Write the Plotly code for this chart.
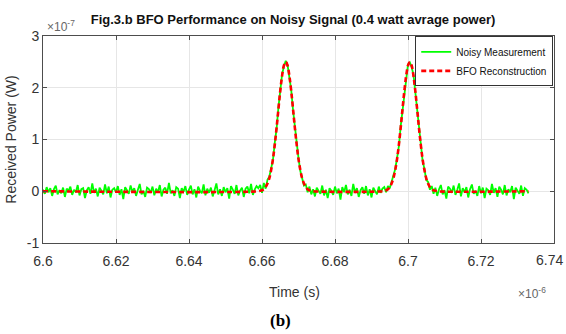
import plotly.graph_objects as go

# time grid in microseconds (axis shows x 1e-6 s)
t_start = 6.600
t_step = 0.0005

# Noisy measurement (units of 1e-7 W)
noisy = [
    0.03, -0.05, 0.08, -0.02, 0.06, -0.09, 0.04, 0.11, -0.06, 0.02,
    -0.04, 0.07, -0.11, 0.05, 0.01, 0.09, -0.07, 0.03, -0.02, 0.12,
    -0.08, 0.04, 0.06, -0.13, 0.02, 0.08, -0.05, 0.15, -0.03, 0.05,
    -0.10, 0.07, 0.01, -0.06, 0.13, -0.04, 0.09, -0.12, 0.03, 0.06,
    -0.02, 0.10, -0.07, 0.04, -0.15, 0.08, 0.02, -0.05, 0.11, -0.01,
    0.06, -0.09, 0.03, 0.14, -0.06, 0.01, -0.11, 0.07, 0.04, -0.03,
    0.09, -0.08, 0.05, -0.02, 0.12, -0.10, 0.03, 0.07, -0.05, 0.16,
    -0.04, 0.02, -0.09, 0.08, 0.05, -0.13, 0.06, -0.01, 0.10, -0.07,
    0.03, 0.11, -0.06, 0.04, -0.12, 0.09, 0.01, -0.04, 0.13, -0.08,
    0.05, -0.03, 0.07, -0.10, 0.02, 0.15, -0.06, 0.04, -0.09, 0.08,
    -0.02, 0.06, -0.14, 0.10, 0.03, -0.05, 0.12, -0.08, 0.01, 0.07,
    -0.11, 0.05, 0.09, -0.04, 0.14, -0.07, 0.03, 0.10, 0.06,
    0.12, -0.03, 0.16, 0.05, 0.22, 0.28, 0.45, 0.60, 0.94, 1.21,
    1.62, 1.92, 2.26, 2.41, 2.52, 2.44, 2.21, 1.96, 1.57, 1.25,
    0.88, 0.64, 0.39, 0.27, 0.11, 0.13, -0.02, 0.09, -0.06,
    0.04, -0.10, 0.07, 0.02, -0.05, 0.11, -0.08, 0.03, -0.13, 0.06,
    0.01, -0.07, 0.09, -0.04, 0.05, -0.16, 0.08, -0.02, 0.12, -0.06,
    0.03, -0.09, 0.14, -0.03, 0.06, -0.11, 0.02, 0.08, -0.05, 0.10,
    -0.08, 0.04, -0.12, 0.07, 0.01, -0.06, 0.09, -0.03, 0.05,
    0.08, -0.02, 0.10, 0.06, 0.19, 0.29, 0.43, 0.64, 0.87, 1.26,
    1.56, 1.97, 2.21, 2.45, 2.49, 2.40, 2.25, 1.91, 1.61, 1.20,
    0.92, 0.59, 0.43, 0.22, 0.18, 0.03, 0.10, -0.05, 0.07,
    -0.09, 0.04, 0.12, -0.06, 0.02, -0.14, 0.09, 0.05, -0.03, 0.11,
    -0.07, 0.03, 0.15, -0.10, 0.06, -0.02, 0.08, -0.12, 0.04, 0.13,
    -0.05, 0.01, -0.09, 0.10, -0.04, 0.07, -0.13, 0.05, 0.02, -0.07,
    0.14, -0.03, 0.06, -0.11, 0.09, 0.03, -0.06, 0.12, -0.08, 0.04,
    -0.02, 0.10, -0.15, 0.07, 0.01, -0.05, 0.11, -0.09, 0.06, 0.03, -0.04,
]
noisy_t = [round(t_start + t_step * i, 4) for i in range(len(noisy))]

# BFO reconstruction (units of 1e-7 W)
rec_t = [
    6.6000, 6.6590,
    6.6595, 6.6600, 6.6605, 6.6610, 6.6615, 6.6620, 6.6625, 6.6630, 6.6635, 6.6640,
    6.6645, 6.6650, 6.6655, 6.6660, 6.6665, 6.6670, 6.6675, 6.6680, 6.6685, 6.6690,
    6.6695, 6.6700, 6.6705, 6.6710, 6.6715, 6.6720, 6.6725, 6.6730, 6.6735,
    6.6740, 6.6930,
    6.6935, 6.6940, 6.6945, 6.6950, 6.6955, 6.6960, 6.6965, 6.6970, 6.6975, 6.6980,
    6.6985, 6.6990, 6.6995, 6.7000, 6.7005, 6.7010, 6.7015, 6.7020, 6.7025, 6.7030,
    6.7035, 6.7040, 6.7045, 6.7050, 6.7055, 6.7060, 6.7065, 6.7070, 6.7075,
    6.7080, 6.7330,
]
rec_v = [
    0.0, 0.0,
    0.01, 0.02, 0.04, 0.08, 0.15, 0.25, 0.41, 0.62, 0.90, 1.23,
    1.59, 1.94, 2.23, 2.43, 2.50, 2.43, 2.23, 1.94, 1.59, 1.23,
    0.90, 0.62, 0.41, 0.25, 0.15, 0.08, 0.04, 0.02, 0.01,
    0.0, 0.0,
    0.01, 0.02, 0.04, 0.08, 0.15, 0.25, 0.41, 0.62, 0.90, 1.23,
    1.59, 1.94, 2.23, 2.43, 2.50, 2.43, 2.23, 1.94, 1.59, 1.23,
    0.90, 0.62, 0.41, 0.25, 0.15, 0.08, 0.04, 0.02, 0.01,
    0.0, 0.0,
]

x_ticks = [6.6, 6.62, 6.64, 6.66, 6.68, 6.7, 6.72, 6.74]
x_ticktext = ["6.6", "6.62", "6.64", "6.66", "6.68", "6.7", "6.72", ""]
x_last_label = "6.74"
y_ticks = [-1, 0, 1, 2, 3]
y_ticktext = ["-1", "0", "1", "2", "3"]

FONT = "Liberation Sans, Arial, sans-serif"
AXC = "#4d4d4d"

fig = go.Figure()
fig.add_trace(go.Scatter(x=noisy_t, y=noisy, mode="lines", name="Noisy Measurement",
                         line=dict(color="#00ff00", width=1.8)))
fig.add_trace(go.Scatter(x=rec_t, y=rec_v, mode="lines", name="BFO Reconstruction",
                         line=dict(color="#ff0000", width=2.6, dash="5px,3px", shape="spline")))

fig.update_layout(
    width=566, height=334,
    margin=dict(l=40, r=11, t=36, b=91),
    paper_bgcolor="white", plot_bgcolor="white",
    showlegend=True,
    legend=dict(x=0.9985, y=0.998, xanchor="right", yanchor="top",
                bgcolor="white", bordercolor="#333333", borderwidth=1,
                font=dict(family=FONT, size=10, color="#111111"),
                tracegroupgap=2, itemwidth=30),
    title=dict(text="<b>Fig.3.b BFO Performance on Noisy Signal (0.4 watt avrage power)</b>",
               x=(292 - 40) / 515, xref="paper", xanchor="center", y=1 - 19 / 334, yanchor="middle",
               font=dict(family=FONT, size=13, color="#111111")),
    xaxis=dict(range=[6.6, 6.74], tickvals=x_ticks, ticktext=x_ticktext,
               showgrid=True, gridcolor="#e6e6e6", gridwidth=1,
               showline=True, linecolor=AXC, linewidth=1, mirror="ticks",
               ticks="inside", ticklen=4, tickcolor=AXC, zeroline=False,
               ticklabelstandoff=5,
               tickfont=dict(family=FONT, size=14, color="#333333")),
    yaxis=dict(range=[-1, 3], tickvals=y_ticks, ticktext=y_ticktext,
               showgrid=True, gridcolor="#e6e6e6", gridwidth=1,
               showline=True, linecolor=AXC, linewidth=1, mirror="ticks",
               ticks="inside", ticklen=4, tickcolor=AXC, zeroline=False,
               tickfont=dict(family=FONT, size=14, color="#333333"),
               title=dict(text="Received Power (W)", standoff=6,
                          font=dict(family=FONT, size=14, color="#333333"))),
    annotations=[
        dict(text="×10<sup>-7</sup>", xref="paper", yref="paper", x=0.0, y=1.0,
             xanchor="left", yanchor="bottom", showarrow=False, xshift=2,
             font=dict(family=FONT, size=12, color="#666666")),
        dict(text=x_last_label, xref="paper", yref="paper", x=1.0, y=0.0,
             xanchor="right", yanchor="top", showarrow=False, xshift=11, yshift=-7,
             font=dict(family=FONT, size=14, color="#333333")),
        dict(text="×10<sup>-6</sup>", xref="paper", yref="paper", x=1.0, y=0.0,
             xanchor="right", yanchor="top", showarrow=False, yshift=-40, xshift=-6,
             font=dict(family=FONT, size=12, color="#666666")),
        dict(text="Time (s)", xref="paper", yref="paper", x=(293 - 40) / 515, y=0.0,
             xanchor="center", yanchor="top", showarrow=False, yshift=-39,
             font=dict(family=FONT, size=14, color="#333333")),
        dict(text="<b>(b)</b>", xref="paper", yref="paper", x=(279 - 40) / 515, y=0.0,
             xanchor="center", yanchor="top", showarrow=False, yshift=-66,
             font=dict(family="Liberation Serif, Times New Roman, serif", size=17, color="#000000")),
    ],
)

fig.write_html("out.html")
